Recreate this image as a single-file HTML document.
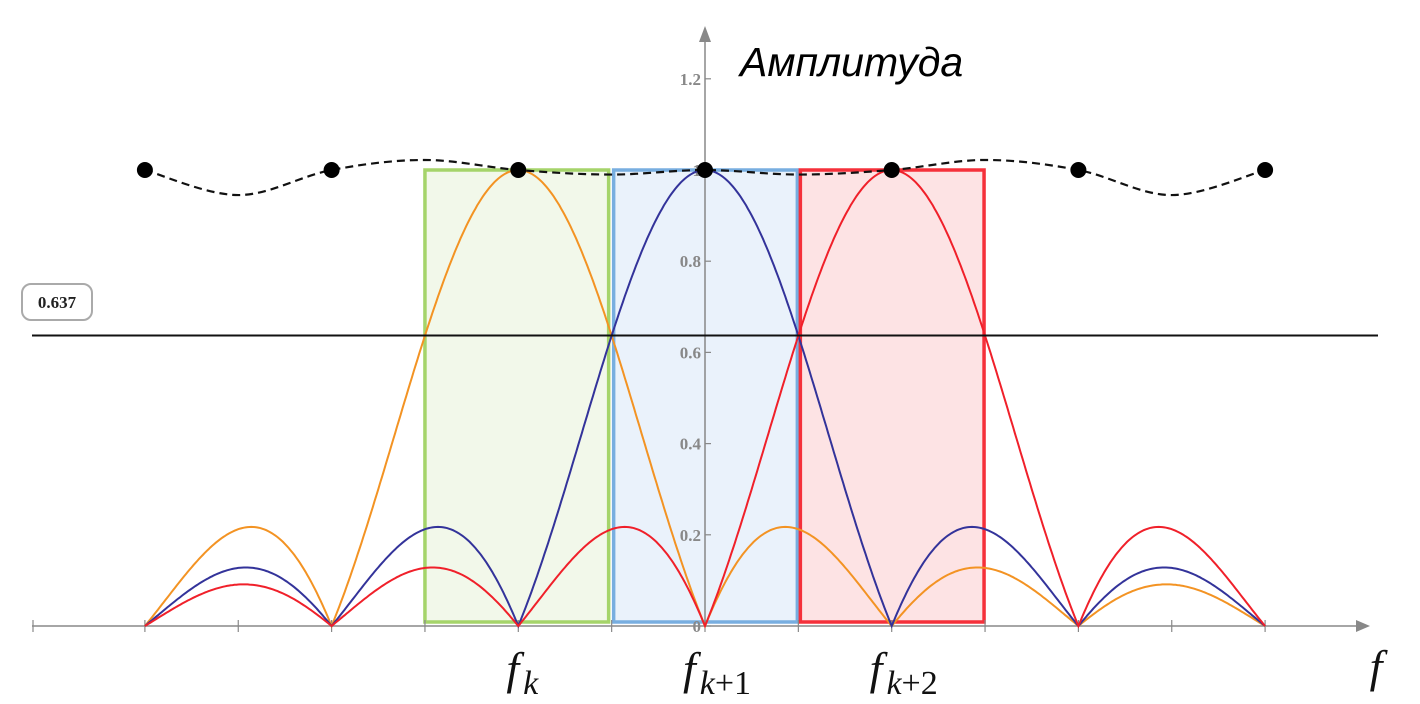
<!DOCTYPE html>
<html><head><meta charset="utf-8">
<style>
html,body{margin:0;padding:0;background:#fff;}
svg{display:block;}
</style></head>
<body>
<svg id="chart" width="1420" height="704" xmlns="http://www.w3.org/2000/svg">
  <g id="rects"></g>
  <g id="axes"></g>
  <g id="curves"></g>
  <g id="overlay"></g>
</svg>
<script>
// ---- data ----
const binCenters = [-1, 0, 1];            // orange (f_k), blue (f_k+1), red (f_k+2)
const seriesColors = ['#f39323', '#33339a', '#f0202a'];
const curveRange = [-3, 3];               // bins, relative to f_k+1
const envelopeBins = [-3,-2.5,-2,-1.5,-1,-0.5,0,0.5,1,1.5,2,2.5,3];
const envelopeVals = [1,0.945,1,1.022,1,0.99,1,0.99,1,1.022,1,0.945,1];
const markerBins = [-3,-2,-1,0,1,2,3];
const markerVals = [1,1,1,1,1,1,1];
const yTicks = [0,0.2,0.4,0.6,0.8,1,1.2];
const yTickLabels = ['0','0.2','0.4','0.6','0.8','1','1.2'];
const thresholdVal = 0.637;
const xLabels = ['f','f','f'];
const xLabelSubs = ['k','k+1','k+2'];

// ---- scales ----
const X0 = 705, BIN = 186.7, Y0 = 626, YU = 456;
const xs = b => X0 + b * BIN;
const ys = v => Y0 - v * YU;
const NS = 'http://www.w3.org/2000/svg';
function mk(tag, attrs, parent){const e=document.createElementNS(NS,tag);for(const k in attrs)e.setAttribute(k,attrs[k]);parent.appendChild(e);return e;}
const gR=document.getElementById('rects'),gA=document.getElementById('axes'),gC=document.getElementById('curves'),gO=document.getElementById('overlay');

// rects
const rectFill=['#f2f8ea','#eaf2fb','#fde3e4'], rectStroke=['#a5d46a','#78aee0','#f5303a'];
binCenters.forEach((b,i)=>{
  const r=mk('rect',{x:xs(b-0.5)+(i==0?0:2),y:ys(1),width:BIN-3,height:ys(0)-ys(1)-4,fill:rectFill[i],stroke:rectStroke[i],'stroke-width':3.5},gR);
  
  
});

// axes
const xa=mk('line',{x1:32,y1:Y0,x2:1360,y2:Y0,stroke:'#888','stroke-width':1.5},gA);

mk('polygon',{points:`1370,${Y0} 1356,${Y0-6} 1356,${Y0+6}`,fill:'#888'},gA);
mk('line',{x1:33,y1:Y0-6,x2:33,y2:Y0+6,stroke:'#888','stroke-width':1.2},gA);
for(let b=-3;b<=3.01;b+=0.5){ mk('line',{x1:xs(b),y1:Y0-6,x2:xs(b),y2:Y0+6,stroke:'#888','stroke-width':1.2},gA);}
const ya=mk('line',{x1:X0,y1:40,x2:X0,y2:Y0,stroke:'#888','stroke-width':1.5},gA);

mk('polygon',{points:`${X0},26 ${X0-6},42 ${X0+6},42`,fill:'#888'},gA);
yTicks.forEach((v,i)=>{
  mk('line',{x1:X0,y1:ys(v),x2:X0+6,y2:ys(v),stroke:'#888','stroke-width':1.2},gA);
  const t=mk('text',{x:X0-4,y:ys(v)+6,'text-anchor':'end','font-family':'Liberation Serif, serif','font-size':17,'font-weight':'bold',fill:'#888'},gA);
  t.textContent=yTickLabels[i];
  
});

// threshold
const th=mk('line',{x1:32,y1:ys(thresholdVal),x2:1378,y2:ys(thresholdVal),stroke:'#111','stroke-width':2},gO);

mk('rect',{x:22,y:284,width:70,height:36,rx:9,fill:'#fff',stroke:'#aaa','stroke-width':2},gO);
const tl=mk('text',{x:57,y:308,'text-anchor':'middle','font-family':'Liberation Serif, serif','font-size':17,'font-weight':'bold',fill:'#222'},gO);
tl.textContent=thresholdVal.toFixed(3);


// sinc curves
function sinc(d){if(Math.abs(d)<1e-9)return 1;return Math.abs(Math.sin(Math.PI*d)/(Math.PI*d));}
binCenters.forEach((c,i)=>{
  let d='';
  for(let b=curveRange[0];b<=curveRange[1]+1e-9;b+=0.01){d+=(d?'L':'M')+xs(b).toFixed(1)+','+ys(sinc(b-c)).toFixed(1);}
  const p=mk('path',{d:d,fill:'none',stroke:seriesColors[i],'stroke-width':2},gC);
  
});

// envelope (Catmull-Rom)
(function(){
  const P=envelopeBins.map((b,i)=>[xs(b),ys(envelopeVals[i])]);
  let d='M'+P[0][0]+','+P[0][1];
  for(let i=0;i<P.length-1;i++){
    const p0=P[Math.max(0,i-1)],p1=P[i],p2=P[i+1],p3=P[Math.min(P.length-1,i+2)];
    const c1=[p1[0]+(p2[0]-p0[0])/6,p1[1]+(p2[1]-p0[1])/6],c2=[p2[0]-(p3[0]-p1[0])/6,p2[1]-(p3[1]-p1[1])/6];
    d+=`C${c1[0]},${c1[1]} ${c2[0]},${c2[1]} ${p2[0]},${p2[1]}`;
  }
  const e=mk('path',{d:d,fill:'none',stroke:'#111','stroke-width':2.2,'stroke-dasharray':'8,5'},gO);
  
})();
markerBins.forEach((b,i)=>{
  const c=mk('circle',{cx:xs(b),cy:ys(markerVals[i]),r:8,fill:'#000'},gO);
  
});

// labels
binCenters.forEach((b,i)=>{
  const t=mk('text',{x:xs(b)+(i==0?4:12),y:684,'text-anchor':'middle','font-family':'Liberation Serif, serif','font-size':46,fill:'#111'},gO);
  
  const a=document.createElementNS(NS,'tspan');a.setAttribute('font-style','italic');a.textContent=xLabels[i];t.appendChild(a);
  const s=document.createElementNS(NS,'tspan');s.setAttribute('font-size','34');s.setAttribute('dy','10');s.setAttribute('dx','4');
  const ks=document.createElementNS(NS,'tspan');ks.setAttribute('font-style','italic');ks.textContent='k';s.appendChild(ks);
  const rest=xLabelSubs[i].slice(1);
  if(rest){const r=document.createElementNS(NS,'tspan');r.textContent=rest;s.appendChild(r);}
  t.appendChild(s);
});
const fx=mk('text',{x:1376,y:682,'text-anchor':'middle','font-family':'Liberation Serif, serif','font-style':'italic','font-size':46,fill:'#111'},gO);
fx.textContent='f';
const yt=mk('text',{x:740,y:76,'font-family':'Liberation Sans, sans-serif','font-style':'italic','font-size':41,fill:'#000'},gO);
yt.textContent='Амплитуда';
</script>
</body></html>
